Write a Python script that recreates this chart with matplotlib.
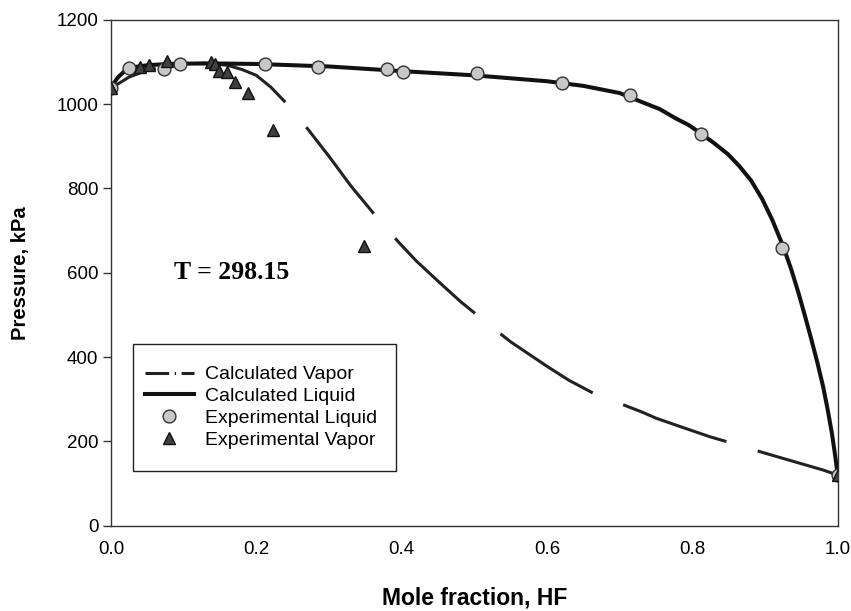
import matplotlib
matplotlib.use("Agg")
import matplotlib.pyplot as plt
from matplotlib.lines import Line2D
from matplotlib.patches import Rectangle

plt.rcParams['font.family'] = ['Liberation Sans', 'DejaVu Sans']
plt.rcParams['lines.scale_dashes'] = False

# Calculated curves
liq_x = [0, 0.005, 0.01, 0.02, 0.03, 0.05, 0.08, 0.1, 0.15, 0.2, 0.3, 0.4, 0.5,
         0.6, 0.65, 0.7, 0.73, 0.755, 0.776, 0.795, 0.812, 0.83, 0.849, 0.865,
         0.881, 0.896, 0.91, 0.925, 0.936, 0.946, 0.955, 0.964, 0.972, 0.98,
         0.986, 0.992, 0.996, 1.0]
liq_y = [1038, 1052, 1064, 1080, 1087, 1092, 1095, 1096, 1096, 1095, 1089, 1078, 1068,
         1054, 1043, 1026, 1005, 988, 967, 950, 930, 907, 881, 852,
         818, 775, 725, 662, 608, 552, 497, 440, 387, 329,
         277, 219, 172, 120]

vap_x = [0, 0.01, 0.025, 0.05, 0.08, 0.1, 0.13, 0.16, 0.18, 0.2, 0.22, 0.245, 0.272,
         0.3, 0.33, 0.364, 0.396, 0.42, 0.45, 0.48, 0.514, 0.55, 0.6, 0.63, 0.665,
         0.703, 0.73, 0.75, 0.78, 0.824, 0.858, 0.9, 0.94, 0.98, 1.0]
vap_y = [1038, 1048, 1064, 1080, 1091, 1095, 1097, 1092, 1082, 1068, 1040, 995, 938,
         876, 806, 735, 672, 628, 580, 533, 485, 436, 378, 345, 313,
         288, 270, 255, 237, 211, 194, 172, 152, 132, 120]

# Experimental data
exl_x = [0, 0.025, 0.073, 0.095, 0.212, 0.285, 0.380, 0.402, 0.504, 0.621, 0.714,
         0.812, 0.924, 1.0]
exl_y = [1038, 1085, 1084, 1094, 1094, 1088, 1082, 1076, 1073, 1049, 1021,
         929, 659, 120]

exv_x = [0, 0.040, 0.053, 0.077, 0.137, 0.143, 0.148, 0.159, 0.171, 0.189, 0.223,
         0.348, 1.0]
exv_y = [1038, 1087, 1092, 1101, 1100, 1094, 1078, 1076, 1052, 1026, 938,
         664, 120]

x_ticks = [0.0, 0.2, 0.4, 0.6, 0.8, 1.0]
y_ticks = [0, 200, 400, 600, 800, 1000, 1200]

fig = plt.figure(figsize=(8.51, 6.11), dpi=100)
ax = fig.add_axes([0.1304, 0.1396, 0.854, 0.8282])

lv, = ax.plot(vap_x, vap_y, color='#222222', lw=2.2,
              linestyle=(43.5, (79, 23.5)),
              dash_capstyle='butt', zorder=2)
ll, = ax.plot(liq_x, liq_y, color='#111111', lw=2.9, zorder=3)
ax.plot(exl_x, exl_y, linestyle='none', marker='o', ms=9.2,
        mfc='#c8c8c8', mec='#333333', mew=1.0, zorder=4)
ax.plot(exv_x, exv_y, linestyle='none', marker='^', ms=9.2,
        mfc='#404040', mec='#111111', mew=1.0, zorder=5)

ax.set_xlim(0, 1.0)
ax.set_ylim(0, 1200)
ax.set_xticks(x_ticks)
ax.set_xticklabels([f"{t:.1f}" for t in x_ticks])
ax.set_yticks(y_ticks)
ax.set_xticks([0.0, 1.0], minor=True)
ax.tick_params(axis='x', which='major', length=0, pad=11, labelsize=13.5)
ax.tick_params(axis='x', which='minor', length=4.5, width=1.0, direction='out', color='#333333')
ax.tick_params(axis='y', length=5.5, width=1.0, direction='out', pad=3.5,
               labelsize=13.5, color='#333333')
for s in ax.spines.values():
    s.set_linewidth(1.0)
    s.set_color('#333333')

ax.set_xlabel('Mole fraction, HF', fontsize=16.5, fontweight='bold', labelpad=20.5)
ax.set_ylabel('Pressure, kPa', fontsize=14.5, fontweight='bold', labelpad=19)

ax.text(0.166, 600, 'T = 298.15', family=['Liberation Serif', 'DejaVu Serif'],
        fontsize=18.5, fontweight='bold', ha='center', va='center')

# legend frame drawn separately
ax.add_patch(Rectangle((0.0308, 0.1072), 0.362, 0.2522, transform=ax.transAxes,
                       facecolor='white', edgecolor='#222222', lw=1.0, zorder=6))

h_vap = Line2D([], [], color='#222222', lw=2.2, linestyle=(0, (17, 4, 1, 4)))
h_liq = Line2D([], [], color='#111111', lw=2.9)
h_exl = Line2D([], [], linestyle='none', marker='o', ms=9.2, mfc='#c8c8c8',
               mec='#333333', mew=1.0)
h_exv = Line2D([], [], linestyle='none', marker='^', ms=9.2, mfc='#404040',
               mec='#111111', mew=1.0)
leg = ax.legend([h_vap, h_liq, h_exl, h_exv],
                ['Calculated Vapor', 'Calculated Liquid', 'Experimental Liquid',
                 'Experimental Vapor'],
                loc='upper left', bbox_to_anchor=(0.0469, 0.316), borderaxespad=0,
                fontsize=14, frameon=False, handlelength=2.5, handletextpad=0.6,
                labelspacing=0.22, borderpad=0)
leg.set_zorder(7)

fig.savefig('out.png', dpi=100)
